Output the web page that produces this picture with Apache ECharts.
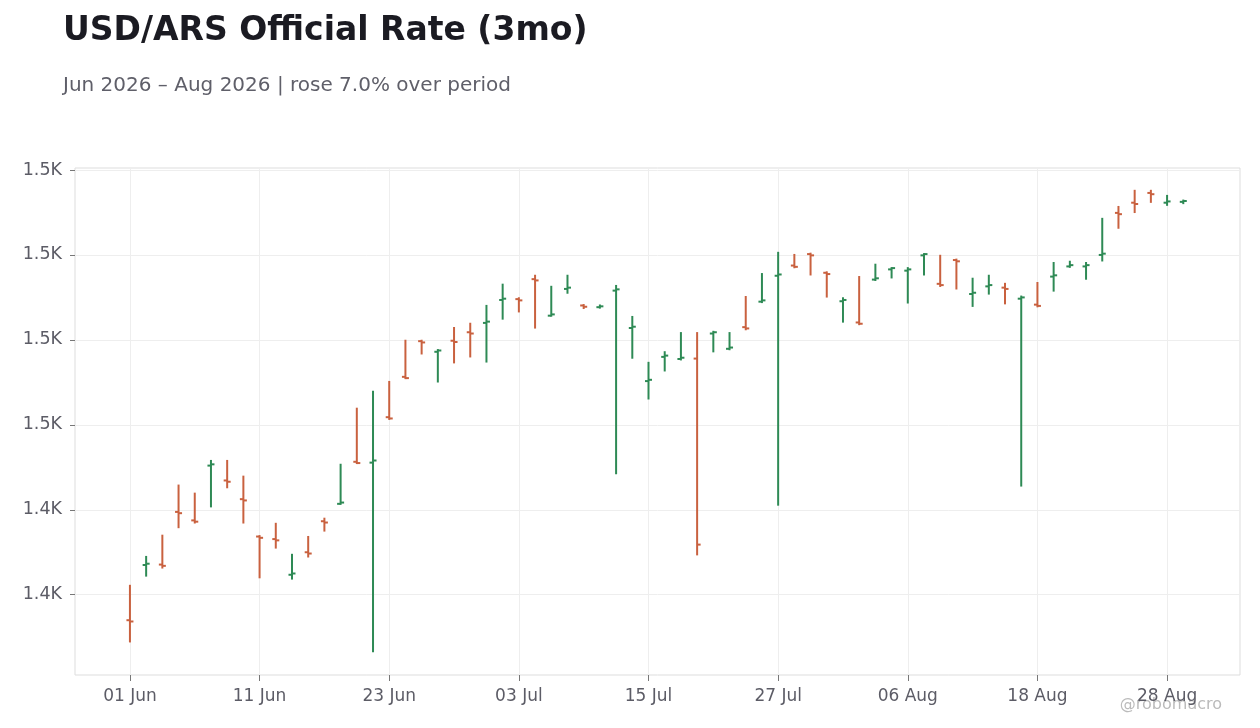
<!DOCTYPE html>
<html>
<head>
<meta charset="utf-8">
<title>USD/ARS Official Rate (3mo)</title>
<script src="https://cdn.jsdelivr.net/npm/echarts@6/dist/echarts.min.js"></script>
<style>
  html, body { margin: 0; padding: 0; background: #ffffff; }
  #chart { width: 1260px; height: 728px; }
</style>
</head>
<body>
<div id="chart"></div>
<script>
// trading days, Jun 1 – Aug 31 2026
var dates = [
  "01 Jun", "02 Jun", "03 Jun", "04 Jun", "05 Jun", "08 Jun", "09 Jun", "10 Jun",
  "11 Jun", "12 Jun", "15 Jun", "16 Jun", "17 Jun", "18 Jun", "19 Jun", "22 Jun",
  "23 Jun", "24 Jun", "25 Jun", "26 Jun", "29 Jun", "30 Jun", "01 Jul", "02 Jul",
  "03 Jul", "06 Jul", "07 Jul", "08 Jul", "09 Jul", "10 Jul", "13 Jul", "14 Jul",
  "15 Jul", "16 Jul", "17 Jul", "20 Jul", "21 Jul", "22 Jul", "23 Jul", "24 Jul",
  "27 Jul", "28 Jul", "29 Jul", "30 Jul", "31 Jul", "03 Aug", "04 Aug", "05 Aug",
  "06 Aug", "07 Aug", "10 Aug", "11 Aug", "12 Aug", "13 Aug", "14 Aug", "17 Aug",
  "18 Aug", "19 Aug", "20 Aug", "21 Aug", "24 Aug", "25 Aug", "26 Aug", "27 Aug",
  "28 Aug", "31 Aug"
];

var open = [
  1414.0, 1427.0, 1427.1, 1439.5, 1437.5, 1450.4, 1446.9, 1442.5,
  1433.7, 1433.1, 1424.7, 1430.0, 1437.3, 1441.4, 1451.3, 1451.1,
  1461.8, 1471.3, 1479.7, 1477.2, 1479.8, 1481.8, 1484.0, 1489.4,
  1489.6, 1494.3, 1485.7, 1492.0, 1488.1, 1487.7, 1491.6, 1482.8,
  1470.3, 1476.0, 1475.5, 1475.6, 1481.5, 1477.9, 1483.0, 1489.0,
  1495.1, 1497.5, 1500.2, 1495.8, 1489.1, 1484.1, 1494.2, 1496.6,
  1496.3, 1499.9, 1493.2, 1498.8, 1490.8, 1492.6, 1492.3, 1489.7,
  1488.3, 1494.9, 1497.3, 1497.3, 1500.0, 1509.9, 1512.3, 1514.6,
  1512.3, 1512.5
];
var high = [
  1422.1, 1428.9, 1433.9, 1445.7, 1443.8, 1451.5, 1451.5, 1447.8,
  1433.8, 1436.7, 1429.4, 1433.6, 1437.9, 1450.6, 1463.8, 1467.8,
  1470.1, 1479.8, 1479.8, 1477.6, 1482.8, 1483.8, 1488.0, 1493.0,
  1489.8, 1495.1, 1492.5, 1495.1, 1488.2, 1488.1, 1492.7, 1485.4,
  1474.6, 1477.1, 1481.6, 1481.6, 1481.9, 1481.6, 1490.1, 1495.5,
  1500.5, 1500.0, 1500.3, 1495.9, 1489.8, 1494.8, 1497.7, 1496.9,
  1496.9, 1500.2, 1499.8, 1498.9, 1494.4, 1495.1, 1493.2, 1490.2,
  1493.4, 1498.1, 1498.4, 1498.1, 1508.5, 1511.3, 1515.1, 1515.1,
  1513.9, 1512.8
];
var low = [
  1409.0, 1424.5, 1426.4, 1435.9, 1437.0, 1440.8, 1445.3, 1437.0,
  1424.1, 1431.1, 1423.8, 1429.0, 1435.1, 1441.4, 1451.0, 1406.7,
  1461.4, 1471.0, 1476.8, 1470.2, 1474.7, 1476.1, 1474.9, 1485.0,
  1486.7, 1482.9, 1485.7, 1491.1, 1487.5, 1487.6, 1448.6, 1475.8,
  1466.2, 1472.8, 1475.4, 1429.5, 1477.3, 1477.8, 1482.5, 1488.9,
  1441.2, 1497.1, 1495.4, 1490.2, 1484.3, 1483.7, 1494.1, 1494.7,
  1488.8, 1495.4, 1492.7, 1492.1, 1488.0, 1490.9, 1488.6, 1445.7,
  1487.9, 1491.6, 1497.2, 1494.4, 1498.7, 1506.4, 1510.1, 1512.5,
  1511.8, 1512.2
];
var close = [
  1413.7, 1427.3, 1426.8, 1439.2, 1437.2, 1450.7, 1446.6, 1442.2,
  1433.4, 1432.8, 1425.0, 1429.7, 1437.0, 1441.7, 1451.0, 1451.6,
  1461.5, 1471.0, 1479.4, 1477.5, 1479.5, 1481.5, 1484.3, 1489.7,
  1489.3, 1494.0, 1486.0, 1492.3, 1487.8, 1487.9, 1491.9, 1483.1,
  1470.6, 1476.3, 1475.8, 1431.8, 1481.8, 1478.2, 1482.7, 1489.3,
  1495.4, 1497.2, 1499.9, 1495.5, 1489.4, 1483.8, 1494.5, 1496.9,
  1496.6, 1500.2, 1492.9, 1498.5, 1491.1, 1492.9, 1492.0, 1490.0,
  1488.0, 1495.2, 1497.6, 1497.6, 1500.3, 1509.6, 1512.0, 1514.3,
  1512.6, 1512.7
];

var xTickIdx = [0, 8, 16, 24, 32, 40, 48, 56, 64];
var yTicks = [1420, 1440, 1460, 1480, 1500, 1520];

var UP = "#2e8a55";
var DOWN = "#c9613f";
var TEXT = "#5c5c66";
var FONT = "DejaVu Sans";

var ohlc = dates.map(function (d, i) {
  return [i, open[i], high[i], low[i], close[i]];
});

// vertical low-high line, open tick to the left, close tick to the right
function renderBar(params, api) {
  var i = api.value(0);
  var o = api.coord([i, api.value(1)]);
  var h = api.coord([i, api.value(2)]);
  var l = api.coord([i, api.value(3)]);
  var c = api.coord([i, api.value(4)]);
  var color = api.value(4) >= api.value(1) ? UP : DOWN;
  var st = { stroke: color, lineWidth: 2 };
  return {
    type: "group",
    children: [
      { type: "line", shape: { x1: h[0], y1: h[1] - 1, x2: l[0], y2: l[1] + 1 }, style: st },
      { type: "line", shape: { x1: o[0] - 3.5, y1: o[1], x2: o[0], y2: o[1] }, style: st },
      { type: "line", shape: { x1: c[0], y1: c[1], x2: c[0] + 3.5, y2: c[1] }, style: st }
    ]
  };
}

var chart = echarts.init(document.getElementById("chart"), null, { renderer: "canvas" });

chart.setOption({
  animation: false,
  backgroundColor: "#ffffff",
  title: {
    text: "USD/ARS Official Rate (3mo)",
    subtext: "Jun 2026 \u2013 Aug 2026 | rose 7.0% over period",
    left: 58,
    top: 10,
    itemGap: 28,
    textStyle: { fontFamily: FONT, fontSize: 33, fontWeight: "bold", color: "#1b1b22" },
    subtextStyle: { fontFamily: FONT, fontSize: 20, color: "#5f5f69" }
  },
  grid: {
    left: 75,
    right: 20,
    top: 168,
    bottom: 53,
    show: true,
    borderColor: "#dddddd",
    borderWidth: 1
  },
  xAxis: {
    type: "value",
    min: -3.39,
    max: 68.5,
    axisLine: { show: false, onZero: false },
    axisTick: {
      show: true,
      customValues: xTickIdx,
      length: 6,
      lineStyle: { color: "#777777", width: 1 }
    },
    axisLabel: {
      customValues: xTickIdx,
      margin: 13,
      fontFamily: FONT,
      fontSize: 17,
      color: TEXT,
      formatter: function (v) { return dates[Math.round(v)] || ""; }
    },
    splitLine: { show: true, lineStyle: { color: "#eeeeee", width: 1 } }
  },
  yAxis: {
    type: "value",
    min: 1401.1,
    max: 1520.47,
    axisLine: { show: false, onZero: false },
    axisTick: {
      show: true,
      customValues: yTicks,
      length: 5,
      lineStyle: { color: "#777777", width: 1 }
    },
    axisLabel: {
      customValues: yTicks,
      margin: 13,
      fontFamily: FONT,
      fontSize: 17.5,
      color: TEXT,
      formatter: function (v) { return (v / 1000).toFixed(1) + "K"; }
    },
    splitLine: { show: true, lineStyle: { color: "#eeeeee", width: 1 } }
  },
  graphic: [
    {
      type: "text",
      right: 38,
      top: 697,
      style: { text: "@robomacro", fontFamily: FONT, fontSize: 16, fill: "#bbbbbb" }
    }
  ],
  series: [
    {
      type: "custom",
      name: "USD/ARS",
      renderItem: renderBar,
      encode: { x: 0, y: [1, 2, 3, 4] },
      data: ohlc,
      clip: true
    }
  ]
});
</script>
</body>
</html>
